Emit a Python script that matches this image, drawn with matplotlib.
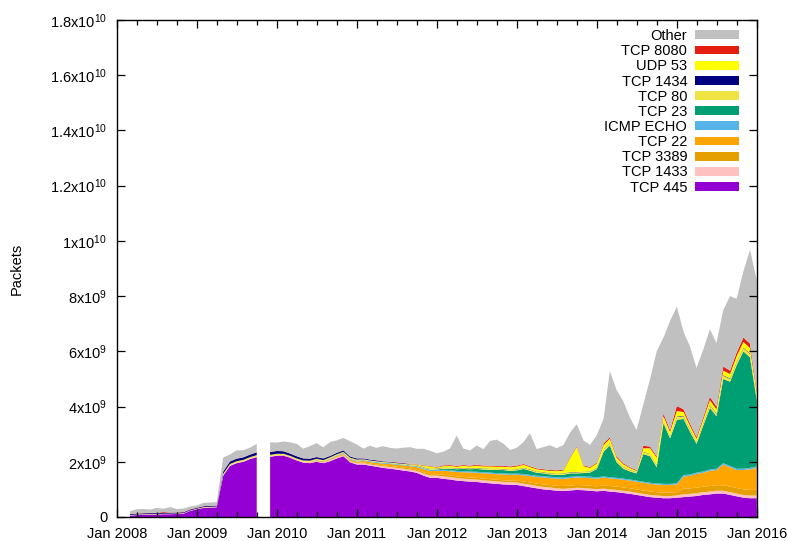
import matplotlib
matplotlib.use("Agg")
import matplotlib.pyplot as plt
import matplotlib.dates as mdates
from matplotlib.patches import Patch
import numpy as np
import pandas as pd

plt.rcParams["font.family"] = ["Liberation Sans", "DejaVu Sans"]

# monthly values, in units of 1e9 packets
months = pd.date_range("2008-01-31", "2015-12-31", freq="ME")
missing_months = ["2008-01", "2009-10"]

tcp445 = [
    0.0, 0.05, 0.07, 0.08, 0.09, 0.09, 0.1, 0.1, 0.11, 0.12, 0.22, 0.28,
    0.33, 0.34, 0.35, 1.5, 1.85, 1.95, 2.0, 2.1, 2.17, 0.0, 2.18, 2.22,
    2.22, 2.15, 2.05, 1.97, 1.95, 2.0, 1.95, 2.02, 2.12, 2.2, 1.98, 1.9,
    1.9, 1.86, 1.82, 1.78, 1.75, 1.72, 1.68, 1.65, 1.6, 1.5, 1.42, 1.42,
    1.38, 1.36, 1.32, 1.3, 1.28, 1.27, 1.24, 1.22, 1.2, 1.18, 1.17, 1.16,
    1.12, 1.08, 1.04, 1.0, 0.98, 0.95, 0.94, 0.96, 0.98, 0.97, 0.95, 0.93,
    0.95, 0.92, 0.9, 0.87, 0.84, 0.8, 0.76, 0.72, 0.7, 0.68, 0.68, 0.7,
    0.72, 0.74, 0.76, 0.8, 0.82, 0.85, 0.85, 0.8, 0.75, 0.7, 0.68, 0.68,
]
tcp1433 = [
    0.0, 0.01, 0.01, 0.01, 0.01, 0.01, 0.01, 0.01, 0.01, 0.01, 0.01, 0.01,
    0.01, 0.01, 0.01, 0.02, 0.02, 0.02, 0.02, 0.02, 0.02, 0.0, 0.02, 0.02,
    0.02, 0.02, 0.02, 0.03, 0.03, 0.03, 0.03, 0.04, 0.04, 0.04, 0.04, 0.05,
    0.05, 0.05, 0.05, 0.06, 0.06, 0.06, 0.07, 0.07, 0.07, 0.08, 0.08, 0.08,
    0.09, 0.09, 0.09, 0.09, 0.09, 0.09, 0.09, 0.09, 0.09, 0.09, 0.09, 0.09,
    0.09, 0.09, 0.09, 0.09, 0.09, 0.09, 0.08, 0.08, 0.08, 0.08, 0.08, 0.08,
    0.08, 0.08, 0.08, 0.08, 0.08, 0.08, 0.08, 0.08, 0.08, 0.08, 0.08, 0.08,
    0.1, 0.1, 0.1, 0.1, 0.1, 0.1, 0.1, 0.1, 0.1, 0.1, 0.1, 0.1,
]
tcp3389 = [
    0, 0, 0, 0, 0, 0, 0, 0, 0, 0, 0, 0,
    0, 0, 0, 0, 0, 0, 0, 0, 0, 0, 0, 0,
    0, 0, 0, 0, 0, 0.01, 0.01, 0.01, 0.02, 0.02, 0.02, 0.02,
    0.03, 0.03, 0.03, 0.03, 0.04, 0.04, 0.04, 0.04, 0.05, 0.05, 0.05, 0.05,
    0.06, 0.06, 0.06, 0.06, 0.06, 0.06, 0.06, 0.06, 0.06, 0.06, 0.06, 0.06,
    0.08, 0.08, 0.08, 0.09, 0.09, 0.09, 0.1, 0.1, 0.1, 0.1, 0.1, 0.1,
    0.12, 0.12, 0.12, 0.12, 0.12, 0.12, 0.12, 0.12, 0.12, 0.12, 0.12, 0.12,
    0.2, 0.2, 0.2, 0.2, 0.2, 0.2, 0.2, 0.2, 0.2, 0.2, 0.2, 0.2,
]
tcp22 = [
    0, 0, 0, 0, 0, 0, 0, 0, 0, 0, 0, 0,
    0, 0, 0, 0, 0, 0, 0, 0, 0, 0, 0, 0,
    0.01, 0.01, 0.01, 0.01, 0.02, 0.02, 0.02, 0.03, 0.03, 0.03, 0.04, 0.04,
    0.05, 0.05, 0.06, 0.06, 0.07, 0.07, 0.08, 0.08, 0.09, 0.1, 0.11, 0.12,
    0.14, 0.15, 0.16, 0.17, 0.18, 0.18, 0.19, 0.2, 0.2, 0.21, 0.21, 0.22,
    0.22, 0.23, 0.24, 0.25, 0.25, 0.26, 0.26, 0.27, 0.27, 0.27, 0.28, 0.28,
    0.28, 0.28, 0.28, 0.28, 0.28, 0.28, 0.28, 0.28, 0.28, 0.28, 0.28, 0.28,
    0.45, 0.45, 0.5, 0.5, 0.55, 0.55, 0.75, 0.7, 0.65, 0.7, 0.75, 0.8,
]
icmp_echo = [
    0, 0, 0, 0, 0, 0, 0, 0, 0, 0, 0, 0,
    0, 0, 0, 0, 0, 0, 0, 0, 0, 0, 0, 0,
    0, 0, 0, 0, 0, 0.01, 0.01, 0.02, 0.02, 0.03, 0.03, 0.03,
    0.03, 0.03, 0.03, 0.03, 0.03, 0.03, 0.03, 0.03, 0.03, 0.03, 0.03, 0.03,
    0.04, 0.04, 0.04, 0.04, 0.04, 0.04, 0.04, 0.04, 0.04, 0.04, 0.04, 0.04,
    0.05, 0.05, 0.05, 0.05, 0.05, 0.05, 0.05, 0.05, 0.05, 0.05, 0.05, 0.05,
    0.04, 0.04, 0.04, 0.04, 0.04, 0.04, 0.04, 0.04, 0.04, 0.04, 0.04, 0.04,
    0.05, 0.05, 0.05, 0.05, 0.05, 0.05, 0.05, 0.05, 0.05, 0.05, 0.05, 0.05,
]
tcp23 = [
    0, 0, 0, 0, 0, 0, 0, 0, 0, 0, 0, 0,
    0, 0, 0, 0, 0, 0, 0, 0, 0, 0, 0, 0,
    0, 0, 0, 0, 0, 0, 0, 0, 0, 0, 0, 0,
    0, 0, 0, 0, 0, 0, 0, 0, 0.01, 0.01, 0.02, 0.02,
    0.04, 0.05, 0.06, 0.08, 0.08, 0.1, 0.1, 0.1, 0.12, 0.12, 0.1, 0.12,
    0.18, 0.15, 0.1, 0.1, 0.08, 0.08, 0.1, 0.12, 0.1, 0.12, 0.15, 0.3,
    0.9, 1.15, 0.56, 0.36, 0.29, 0.26, 1.0, 0.96, 0.58, 2.2, 1.65, 2.3,
    2.03, 1.56, 1.04, 1.65, 2.23, 1.9, 3.05, 3.05, 3.75, 4.25, 4.0, 2.4,
]
tcp80 = [
    0.0, 0.01, 0.01, 0.01, 0.01, 0.01, 0.01, 0.01, 0.01, 0.01, 0.01, 0.01,
    0.02, 0.02, 0.02, 0.05, 0.05, 0.05, 0.05, 0.05, 0.05, 0.0, 0.05, 0.05,
    0.04, 0.04, 0.04, 0.04, 0.04, 0.04, 0.04, 0.04, 0.04, 0.04, 0.04, 0.04,
    0.03, 0.03, 0.03, 0.03, 0.03, 0.03, 0.03, 0.03, 0.03, 0.03, 0.03, 0.03,
    0.03, 0.03, 0.03, 0.03, 0.03, 0.03, 0.03, 0.03, 0.03, 0.03, 0.03, 0.03,
    0.04, 0.04, 0.04, 0.04, 0.04, 0.04, 0.04, 0.04, 0.04, 0.04, 0.04, 0.04,
    0.08, 0.08, 0.06, 0.06, 0.05, 0.04, 0.08, 0.08, 0.08, 0.08, 0.08, 0.1,
    0.1, 0.08, 0.07, 0.08, 0.1, 0.09, 0.12, 0.1, 0.12, 0.12, 0.12, 0.1,
]
tcp1434 = [
    0.0, 0.03, 0.03, 0.03, 0.03, 0.03, 0.03, 0.03, 0.03, 0.03, 0.03, 0.03,
    0.03, 0.03, 0.03, 0.08, 0.09, 0.09, 0.09, 0.09, 0.1, 0.0, 0.1, 0.1,
    0.09, 0.08, 0.08, 0.07, 0.07, 0.06, 0.06, 0.05, 0.05, 0.05, 0.04, 0.04,
    0.03, 0.03, 0.03, 0.02, 0.02, 0.02, 0.02, 0.01, 0.01, 0.01, 0.01, 0.01,
    0.01, 0.01, 0.01, 0.01, 0.01, 0.01, 0.01, 0.01, 0.01, 0.01, 0.01, 0.01,
    0.01, 0.01, 0.01, 0.01, 0.01, 0.01, 0.01, 0.01, 0.01, 0.01, 0.01, 0.01,
    0.01, 0.01, 0.01, 0.01, 0.01, 0.01, 0.01, 0.01, 0.01, 0.01, 0.01, 0.02,
    0.02, 0.02, 0.01, 0.02, 0.02, 0.02, 0.02, 0.02, 0.02, 0.02, 0.02, 0.01,
]
udp53 = [
    0, 0, 0, 0, 0, 0, 0, 0, 0, 0, 0, 0,
    0, 0, 0, 0, 0, 0, 0, 0, 0, 0, 0, 0,
    0, 0, 0, 0, 0, 0, 0, 0, 0, 0, 0, 0,
    0, 0, 0, 0, 0, 0, 0, 0.01, 0.02, 0.04, 0.08, 0.03,
    0.05, 0.06, 0.05, 0.07, 0.06, 0.08, 0.07, 0.08, 0.07, 0.08, 0.09, 0.1,
    0.1, 0.08, 0.08, 0.07, 0.08, 0.09, 0.1, 0.5, 0.9, 0.2, 0.12, 0.15,
    0.15, 0.15, 0.1, 0.09, 0.06, 0.04, 0.12, 0.2, 0.26, 0.16, 0.14, 0.2,
    0.13, 0.12, 0.1, 0.12, 0.16, 0.14, 0.16, 0.16, 0.18, 0.2, 0.2, 0.14,
]
tcp8080 = [
    0.0, 0.01, 0.01, 0.01, 0.01, 0.01, 0.03, 0.01, 0.01, 0.01, 0.01, 0.01,
    0.005, 0.005, 0.005, 0.005, 0.005, 0.005, 0.005, 0.005, 0.005, 0.0, 0.005, 0.005,
    0.005, 0.005, 0.005, 0.005, 0.005, 0.005, 0.005, 0.005, 0.005, 0.005, 0.005, 0.005,
    0.005, 0.005, 0.005, 0.005, 0.005, 0.01, 0.01, 0.01, 0.01, 0.02, 0.02, 0.02,
    0.03, 0.03, 0.03, 0.03, 0.03, 0.03, 0.03, 0.03, 0.03, 0.03, 0.03, 0.03,
    0.03, 0.03, 0.03, 0.03, 0.03, 0.03, 0.03, 0.03, 0.03, 0.03, 0.03, 0.03,
    0.06, 0.06, 0.05, 0.04, 0.03, 0.03, 0.09, 0.06, 0.05, 0.1, 0.07, 0.18,
    0.1, 0.08, 0.07, 0.08, 0.12, 0.1, 0.15, 0.12, 0.13, 0.16, 0.16, 0.1,
]
other = [
    0.0, 0.1, 0.15, 0.15, 0.12, 0.18, 0.12, 0.2, 0.12, 0.13, 0.1, 0.08,
    0.12, 0.12, 0.12, 0.5, 0.25, 0.3, 0.25, 0.25, 0.3, 0.0, 0.35, 0.3,
    0.35, 0.4, 0.45, 0.35, 0.45, 0.5, 0.4, 0.5, 0.45, 0.45, 0.55, 0.5,
    0.35, 0.5, 0.45, 0.55, 0.5, 0.5, 0.55, 0.6, 0.55, 0.6, 0.55, 0.5,
    0.5, 0.6, 1.1, 0.6, 0.55, 0.7, 0.6, 0.9, 0.95, 0.8, 0.6, 0.65,
    0.8, 1.2, 0.7, 0.8, 0.9, 0.8, 0.9, 0.9, 0.8, 0.9, 0.8, 1.0,
    0.9, 2.4, 2.4, 2.25, 1.8, 1.45, 1.5, 2.45, 3.8, 2.75, 3.95, 3.6,
    2.8, 2.8, 2.5, 2.45, 2.45, 2.3, 2.05, 2.7, 1.95, 2.4, 3.4, 4.0,
]

# bottom to top of the stack
labels = ["TCP 445", "TCP 1433", "TCP 3389", "TCP 22", "ICMP ECHO", "TCP 23",
          "TCP 80", "TCP 1434", "UDP 53", "TCP 8080", "Other"]
series = [tcp445, tcp1433, tcp3389, tcp22, icmp_echo, tcp23,
          tcp80, tcp1434, udp53, tcp8080, other]
colors = ["#9400d3", "#ffc0c0", "#e69f00", "#ffa500", "#56b4e9", "#009e73",
          "#f0e442", "#000080", "#ffff00", "#e51e10", "#c0c0c0"]

ytick_values = [0, 2e9, 4e9, 6e9, 8e9, 1e10, 1.2e10, 1.4e10, 1.6e10, 1.8e10]
ytick_labels = ["0", "2x10^{9}", "4x10^{9}", "6x10^{9}", "8x10^{9}", "1x10^{10}",
                "1.2x10^{10}", "1.4x10^{10}", "1.6x10^{10}", "1.8x10^{10}"]

vals = np.array(series, dtype=float) * 1e9
gap = np.asarray(months.strftime("%Y-%m").isin(missing_months))
vals[:, gap] = np.nan

fig = plt.figure(figsize=(7.88, 5.41), dpi=100)
ax = fig.add_axes([117 / 788, 24 / 541, 640 / 788, 497 / 541])

ax.stackplot(months, vals, colors=colors, linewidth=0)

ax.set_xlim(pd.Timestamp("2008-01-01"), pd.Timestamp("2016-01-01"))
ax.set_ylim(0, 1.8e10)

ax.xaxis.set_major_locator(mdates.YearLocator())
ax.xaxis.set_major_formatter(mdates.DateFormatter("%b %Y"))
ax.xaxis.set_minor_locator(mdates.MonthLocator(bymonth=[4, 7, 10]))

ax.set_yticks(ytick_values)
ax.set_yticklabels([r"$\mathregular{" + t + "}$" if t != "0" else t
                    for t in ytick_labels])

ax.tick_params(which="both", direction="in", top=True, right=True,
               labelsize=10.5, width=0.9, pad=7)
ax.tick_params(which="major", length=6)
ax.tick_params(which="minor", length=3.5)
for s in ax.spines.values():
    s.set_linewidth(1.0)

ax.set_ylabel("Packets", fontsize=10.5, labelpad=19)

handles = [Patch(facecolor=c, edgecolor="none") for c in colors][::-1]
ax.legend(handles, labels[::-1], loc="upper right",
          bbox_to_anchor=(739 / 788, 512 / 541), bbox_transform=fig.transFigure,
          frameon=False, markerfirst=False, fontsize=10.5,
          handlelength=3.0, handleheight=0.55, handletextpad=0.55,
          labelspacing=0.08, borderpad=0, borderaxespad=0)

fig.savefig("out.png", dpi=100)
